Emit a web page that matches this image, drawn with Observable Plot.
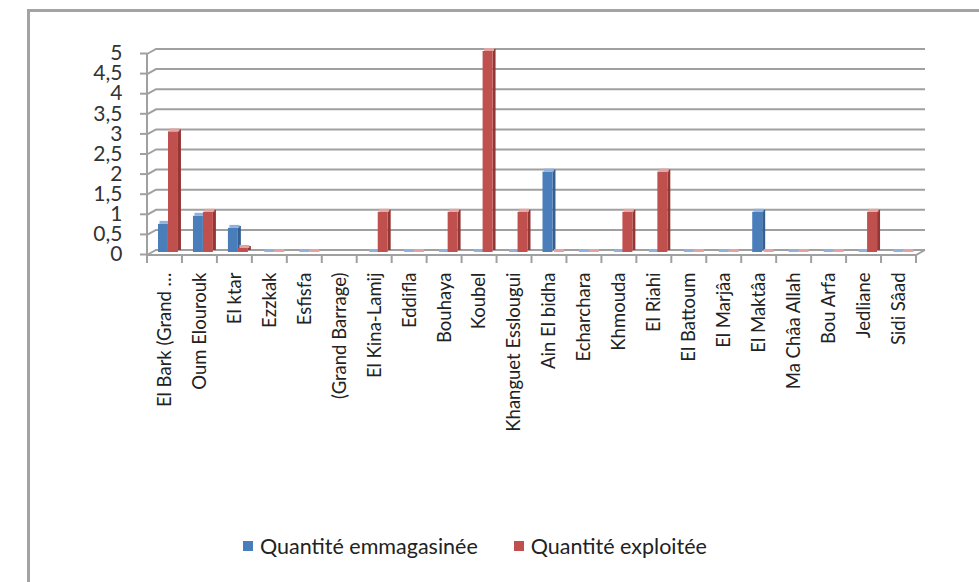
<!DOCTYPE html>
<html>
<head>
<meta charset="utf-8">
<script src="https://cdn.jsdelivr.net/npm/d3@7"></script>
<script src="https://cdn.jsdelivr.net/npm/@observablehq/plot@0.6"></script>
<style>
  html, body { margin: 0; padding: 0; background: #fff; width: 979px; height: 582px; overflow: hidden; }
  #frame { position: absolute; left: 27px; top: 9px; width: 1000px; height: 600px;
           border-left: 3px solid #a3a3a3; border-top: 3px solid #a3a3a3; box-sizing: border-box; }
  #chart { position: absolute; left: 0; top: 0; }
  #legend { position: absolute; left: 243px; top: 533px; display: flex; gap: 36px;
            font-family: Lato, "Open Sans", sans-serif; font-size: 21.5px; color: #222; }
  .item { display: flex; align-items: center; gap: 7px; }
  .sw { width: 10px; height: 10px; display: inline-block; }
</style>
</head>
<body>
<div id="frame"></div>
<div id="chart"></div>
<div id="legend"></div>
<script>
const categories = ["El Bark (Grand …", "Oum Elourouk", "El ktar", "Ezzkak", "Esfisfa", "(Grand Barrage)",
  "El Kina-Lamij", "Eddifla", "Bouhaya", "Koubel", "Khanguet Esslougui", "Ain El bidha", "Echarchara",
  "Khmouda", "El Riahi", "El Battoum", "El Marjâa", "El Maktâa", "Ma Châa Allah", "Bou Arfa", "Jedliane", "Sidi Sâad"];
const stored    = [0.7, 0.9, 0.6, 0, 0, null, 0, 0, 0, 0, 0, 2, 0, 0, 0, 0, 0, 1, 0, 0, 0, 0];
const exploited = [3, 1, 0.1, 0, 0, null, 1, 0, 1, 5, 1, 0, 0, 1, 2, 0, 0, 0, 0, 0, 1, 0];
const yTicks = [0, 0.5, 1, 1.5, 2, 2.5, 3, 3.5, 4, 4.5, 5];
const seriesNames = ["Quantité emmagasinée", "Quantité exploitée"];

const colors = {
  blue: {front: "#4a7ebb", side: "#345f93", top: "#8fb1dc"},
  red:  {front: "#c0504d", side: "#943634", top: "#e3a3a1"}
};

const rows = categories.map((c, i) => ({cat: c, stored: stored[i], exploited: exploited[i]}));
const sRows = rows.filter(d => d.stored != null);
const eRows = rows.filter(d => d.exploited != null);

const depthX = 9, depthY = 5;

function walls(index, scales, values, dims) {
  const x = scales.x, y = scales.y;
  const bw = x.bandwidth ? x.bandwidth() : (dims.width - dims.marginLeft - dims.marginRight) / categories.length;
  const x0 = dims.marginLeft, x1 = dims.width - dims.marginRight;
  const g = d3.create("svg:g").attr("fill", "none").attr("stroke", "#a0a0a0").attr("stroke-width", 2);
  for (const t of yTicks) {
    const yy = y(t);
    g.append("path").attr("d", `M${x0},${yy + depthY}L${x0 + depthX},${yy}L${x1 + depthX},${yy}`);
  }
  const yb = y(0) + depthY;
  g.append("path").attr("d", `M${x0},${y(5) + depthY}L${x0},${yb}L${x1},${yb}L${x1 + depthX},${y(0)}`);
  for (const c of categories) {
    const xb = x(c);
    g.append("line").attr("x1", xb).attr("x2", xb).attr("y1", yb).attr("y2", yb + 8);
  }
  const xe = x(categories[categories.length - 1]) + bw;
  g.append("line").attr("x1", xe).attr("x2", xe).attr("y1", yb).attr("y2", yb + 8);
  return g.node();
}

function bars3d(data, key, c, offset) {
  return [
    Plot.barY(data, {x: "cat", y: key, fill: c.side, insetLeft: offset + 10, insetRight: 35 - offset - 13, dy: 0}),
    Plot.barY(data, {x: "cat", y: key, fill: c.front, insetLeft: offset, insetRight: 35 - offset - 10, dy: 2}),
    Plot.barY(data, {x: "cat", y1: key, y2: key, fill: c.top, insetTop: -3, insetLeft: offset + 1.5, insetRight: 35 - offset - 11.5, dy: 2})
  ];
}

const chart = Plot.plot({
  width: 979,
  height: 520,
  marginLeft: 147,
  marginRight: 63,
  marginTop: 49,
  marginBottom: 270,
  style: {fontFamily: "Lato, 'Open Sans', sans-serif", background: "transparent", color: "#222"},
  x: {type: "band", domain: categories, padding: 0, round: false, label: null},
  y: {domain: [0, 5], label: null},
  marks: [
    walls,
    ...bars3d(sRows, "stored", colors.blue, 11),
    ...bars3d(eRows, "exploited", colors.red, 21),
    Plot.axisY(yTicks, {tickSize: 7, tickPadding: 18, dy: 4, fontSize: 21, stroke: "#a0a0a0", strokeWidth: 2,
      tickFormat: d => String(d).replace(".", ","), fill: "#333"}),
    Plot.axisX({tickSize: 0, tickPadding: 22, tickRotate: -90, fontSize: 18.5, fill: "#222"})
  ]
});
document.getElementById("chart").append(chart);

const legend = document.getElementById("legend");
[colors.blue.front, colors.red.front].forEach((col, i) => {
  const item = document.createElement("div");
  item.className = "item";
  const sw = document.createElement("span");
  sw.className = "sw";
  sw.style.background = col;
  const t = document.createElement("span");
  t.textContent = seriesNames[i];
  item.append(sw, t);
  legend.append(item);
});
</script>
</body>
</html>
